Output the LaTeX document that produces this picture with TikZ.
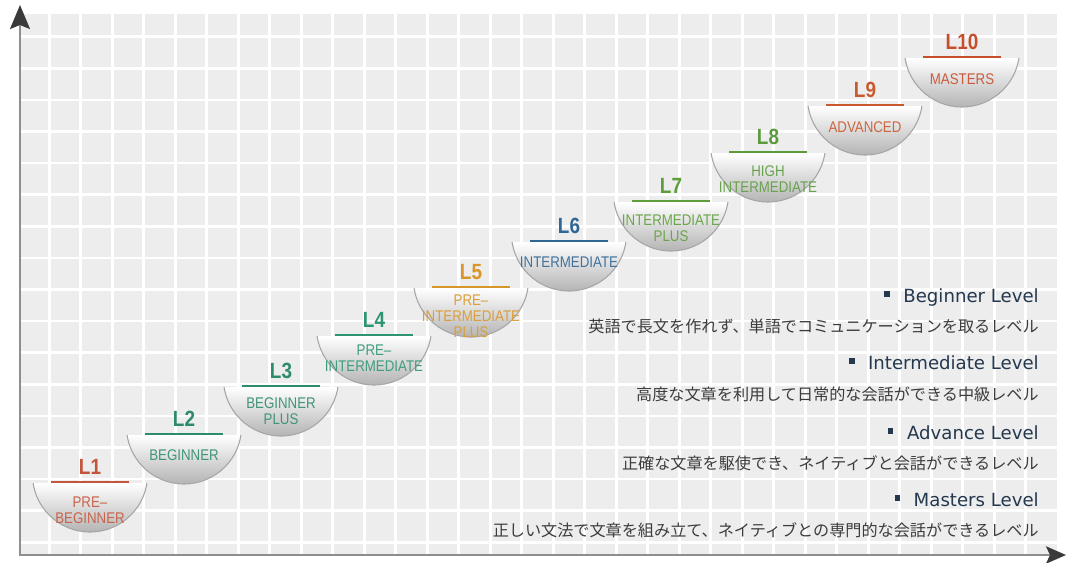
\documentclass[tikz,border=0pt]{standalone}
\usepackage{fontspec}
\setmainfont{Liberation Sans}
\newfontfamily\lvfont[FakeStretch=0.86]{Liberation Sans}
\newfontfamily\hdfont{DejaVu Sans}
\newfontfamily\jpfont{Noto Sans CJK JP}
\usetikzlibrary{arrows.meta}

\definecolor{gridbg}{HTML}{EDEDED}
\definecolor{axisgray}{HTML}{8E8E8E}
\definecolor{tipgray}{HTML}{3A3A3A}
\definecolor{navy}{HTML}{24384E}
\definecolor{jpgray}{HTML}{3C3C3C}
\definecolor{lvone}{HTML}{C4553A}
\definecolor{lvtwo}{HTML}{2E8B6A}
\definecolor{lvthree}{HTML}{2E8B6E}
\definecolor{lvfour}{HTML}{2E9474}
\definecolor{lvfive}{HTML}{D8962A}
\definecolor{lvsix}{HTML}{2F6694}
\definecolor{lvseven}{HTML}{5E9E3A}
\definecolor{lveight}{HTML}{5C9A3E}
\definecolor{lvnine}{HTML}{C85A2E}
\definecolor{lvten}{HTML}{C54E2C}

\begin{document}
\begin{tikzpicture}[x=0.75pt,y=-0.75pt,
  lvlabel/.style={font=\lvfont\bfseries\fontsize{16.5}{17}\selectfont,anchor=base,inner sep=0pt},
  lvtext/.style={font=\lvfont\fontsize{11.6}{12}\selectfont,align=center,inner sep=0pt},
  heading/.style={font=\hdfont\fontsize{13.6}{14}\selectfont,text=navy,anchor=base east,inner sep=0pt},
  jptext/.style={font=\jpfont\fontsize{12.1}{13}\selectfont,text=jpgray,anchor=base east,inner sep=0pt}]
\useasboundingbox (0,0) rectangle (1067,562);
% grid
\fill[gridbg] (20,14) rectangle (1057,555);
\foreach \x in {49.3,80.8,...,1057} {
\draw[white,line width=2pt] (\x,14) -- (\x,555);
}
\foreach \y in {36.7,68.3,...,550} {
\draw[white,line width=2pt] (20,\y) -- (1057,\y);
}
% axes
\draw[axisgray,line width=1.5pt,-{Stealth[length=18pt,width=15pt,inset=3pt,color=tipgray]}] (20,556) -- (20,5);
\draw[axisgray,line width=1.5pt,-{Stealth[length=15pt,width=13pt,inset=3pt,color=tipgray]}] (20,555) -- (1066,555);
% levels
\foreach \n/\cx/\ty/\dy/\col/\txt in {
 1/90/483/27/lvone/{PRE\textendash\\BEGINNER},
 2/184/435/20/lvtwo/{BEGINNER},
 3/281/387/24/lvthree/{BEGINNER\\PLUS},
 4/374/336/22/lvfour/{PRE\textendash\\INTERMEDIATE},
 5/471/288/28/lvfive/{PRE\textendash\\INTERMEDIATE\\PLUS},
 6/569/242/20/lvsix/{INTERMEDIATE},
 7/671/202/26/lvseven/{INTERMEDIATE\\PLUS},
 8/768/153/26/lveight/{HIGH\\INTERMEDIATE},
 9/865/106/21/lvnine/{ADVANCED},
 10/962/58/21/lvten/{MASTERS}} {
\begin{scope}
\clip (\cx-62,\ty) rectangle (\cx+62,\ty+62);
\begin{scope}
\clip (\cx,\ty-8.6) circle (43.2pt);
\shade[top color=white,bottom color=black!30] (\cx-58,\ty) rectangle (\cx+58,\ty+50);
\end{scope}
\draw[black!35,line width=0.8pt] (\cx,\ty-8.6) circle (43.2pt);
\end{scope}
\draw[\col,line width=1.5pt] (\cx-39,\ty-1) -- (\cx+39,\ty-1);
\node[lvlabel,text=\col] (lv\n) at (\cx,\ty-9) {L\n};
\node[lvtext,text=\col!92!white] (tx\n) at (\cx,\ty+\dy) {\txt};
}
% legend
\node[heading] (hd1) at (1039,302) {\textcolor{navy}{\rule[0.3em]{0.3em}{0.3em}}\hspace{0.75em}Beginner Level};
\node[jptext] (jp1) at (1039,332) {英語で長文を作れず、単語でコミュニケーションを取るレベル};
\node[heading] (hd2) at (1039,369) {\textcolor{navy}{\rule[0.3em]{0.3em}{0.3em}}\hspace{0.75em}Intermediate Level};
\node[jptext] (jp2) at (1039,400) {高度な文章を利用して日常的な会話ができる中級レベル};
\node[heading] (hd3) at (1039,439) {\textcolor{navy}{\rule[0.3em]{0.3em}{0.3em}}\hspace{0.75em}Advance Level};
\node[jptext] (jp3) at (1039,469) {正確な文章を駆使でき、ネイティブと会話ができるレベル};
\node[heading] (hd4) at (1039,506) {\textcolor{navy}{\rule[0.3em]{0.3em}{0.3em}}\hspace{0.75em}Masters Level};
\node[jptext] (jp4) at (1039,536) {正しい文法で文章を組み立て、ネイティブとの専門的な会話ができるレベル};
\end{tikzpicture}
\end{document}
